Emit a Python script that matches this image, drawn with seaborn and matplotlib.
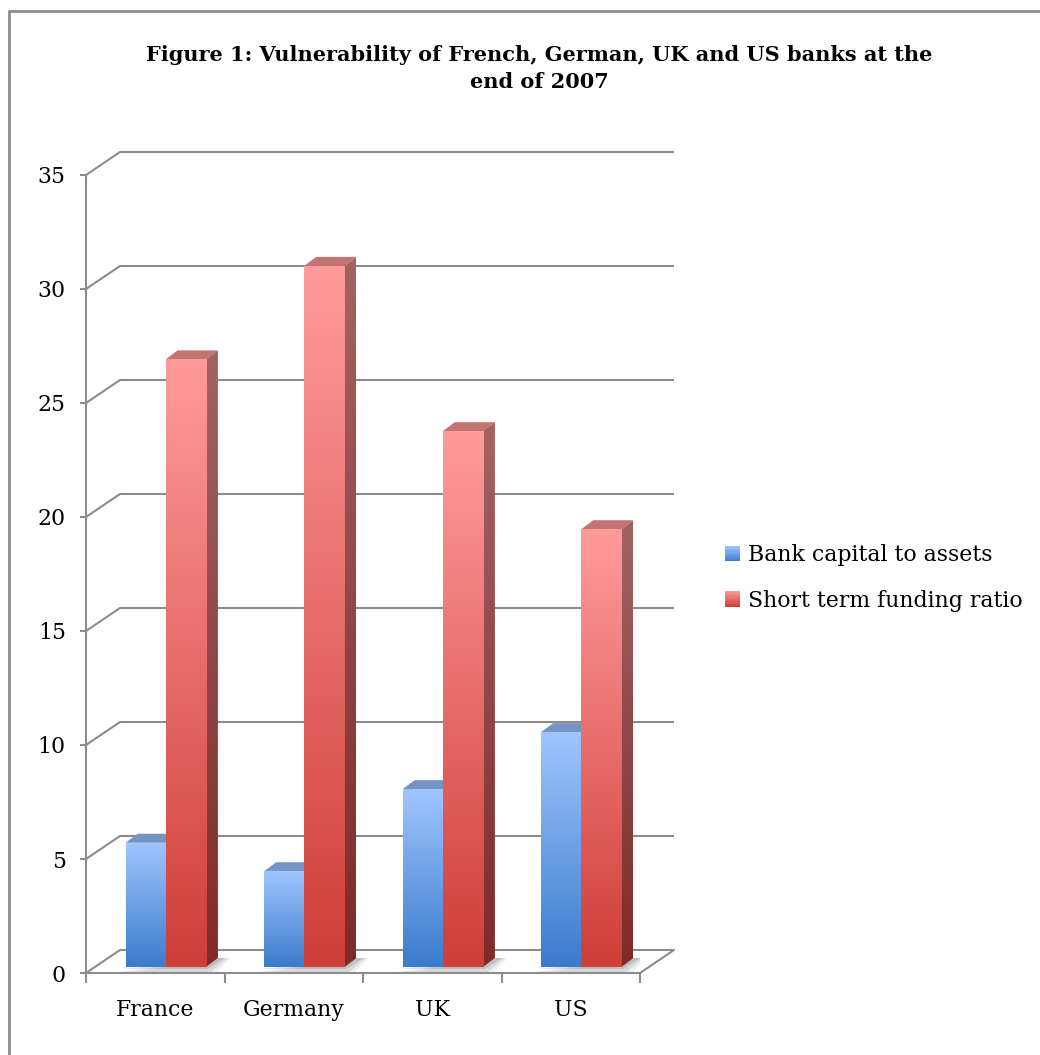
import numpy as np
import pandas as pd
import matplotlib
matplotlib.use("Agg")
import matplotlib.pyplot as plt
import seaborn as sns
from matplotlib.patches import Polygon, Rectangle
from matplotlib.lines import Line2D
from matplotlib.legend_handler import HandlerBase
from matplotlib.colors import LinearSegmentedColormap, to_rgb

# ---- data -------------------------------------------------------------
countries = ["France", "Germany", "UK", "US"]
capital_to_assets = [5.45, 4.2, 7.8, 10.3]
short_term_funding = [26.65, 30.75, 23.5, 19.2]
series_names = ["Bank capital to assets", "Short term funding ratio"]
y_ticks = [0, 5, 10, 15, 20, 25, 30, 35]
title = ("Figure 1: Vulnerability of French, German, UK and US banks at the\n"
         "end of 2007")

df = pd.DataFrame({
    "country": countries * 2,
    "value": capital_to_assets + short_term_funding,
    "series": [series_names[0]] * len(countries) + [series_names[1]] * len(countries),
})

# ---- style ------------------------------------------------------------
sns.set_theme(style="white")
plt.rcParams["font.family"] = ["DejaVu Serif"]
plt.rcParams["text.color"] = "black"

GRID = "#8c8c8c"
LW = 1.5
FS = 15.8
# (front face top, front face bottom, top face, side top, side bottom)
SHADES = {
    series_names[0]: ("#9fc5ff", "#3b7bcc", "#7494c4", "#5a7fb8", "#2f5c9a"),
    series_names[1]: ("#ff9b9b", "#cf3e39", "#c47272", "#a46363", "#7e2a28"),
}

W, H = 1040, 1055
fig = plt.figure(figsize=(W / 100, H / 100), dpi=100)
# front plane of the box, in pixels
X0, X1, Y0, YT = 86, 640, 973, 175
ax = fig.add_axes([X0 / W, 1 - Y0 / H, (X1 - X0) / W, (Y0 - YT) / H])
ax.set_facecolor("none")

sns.barplot(data=df, x="country", y="value", hue="series",
            palette={k: v[1] for k, v in SHADES.items()},
            width=0.58, saturation=1, legend=False, ax=ax)

XL, XR, YMAX = -0.5, len(countries) - 0.5, 35
ppx = (X1 - X0) / (XR - XL)
ppy = (Y0 - YT) / YMAX


def dx(px):
    return px / ppx


def dy(px):
    return px / ppy


# ---- walls and floor --------------------------------------------------
WX, WY = dx(34), dy(23)
for v in y_ticks:
    ax.plot([XL + WX, XR + WX], [v + WY, v + WY], color=GRID, lw=LW,
            clip_on=False, zorder=1, solid_capstyle="butt")
    ax.plot([XL, XL + WX], [v, v + WY], color=GRID, lw=LW,
            clip_on=False, zorder=1)
ax.plot([XR, XR + WX], [0, WY], color=GRID, lw=LW, clip_on=False, zorder=1)


# ---- bars with depth --------------------------------------------------
def gradient(clip, top, bottom, extent, z):
    cmap = LinearSegmentedColormap.from_list("g", [bottom, top])
    grad = np.linspace(0, 1, 256)[:, None]
    im = ax.imshow(grad, cmap=cmap, extent=extent, origin="lower",
                   aspect="auto", zorder=z, interpolation="bilinear")
    im.set_clip_path(clip)
    im.set_clip_on(True)


BX, BY = dx(10.5), dy(6)      # bar plane sits a little inside the box
DX, DY = dx(12), dy(9)        # bar depth

bars = []
for name, cont in zip(series_names, ax.containers):
    for p in cont.patches:
        bars.append((p, name))
bars.sort(key=lambda t: t[0].get_x())

# soft floor shadows under each pair of bars
for i in range(0, len(bars), 2):
    left = bars[i][0].get_x() + BX
    right = bars[i + 1][0].get_x() + BX + bars[i + 1][0].get_width()
    for k, a in enumerate([0.12, 0.09, 0.06]):
        grow = 2 + 3 * k
        ax.add_patch(Polygon([(left - dx(grow), BY - dy(grow)),
                              (right + dx(grow), BY - dy(grow)),
                              (right + DX + dx(grow + 5), BY + DY),
                              (right + DX, BY + DY)],
                             closed=True, facecolor="black", alpha=a,
                             edgecolor="none", zorder=1.5))

for i, (p, name) in enumerate(bars):
    front_top, front_bot, top_col, side_top, side_bot = SHADES[name]
    x, w, h = p.get_x() + BX, p.get_width(), p.get_height()
    p.set_x(x)
    p.set_y(BY)
    y0, y1 = BY, BY + h
    z = 3 + i * 0.1

    ax.add_patch(Polygon([(x, y1), (x + w, y1), (x + w + DX, y1 + DY),
                          (x + DX, y1 + DY)], closed=True,
                         facecolor=top_col, edgecolor="none", zorder=z))
    side = Polygon([(x + w, y0), (x + w + DX, y0 + DY),
                    (x + w + DX, y1 + DY), (x + w, y1)], closed=True,
                   transform=ax.transData)
    gradient(side, side_top, side_bot, [x + w, x + w + DX, y0, y1 + DY], z + 0.01)

    p.set_facecolor("none")
    p.set_edgecolor("none")
    p.set_zorder(z + 0.05)
    gradient(p, front_top, front_bot, [x, x + w, y0, y1], z + 0.04)

ax.set_xlim(XL, XR)
ax.set_ylim(0, YMAX)

# ---- axes -------------------------------------------------------------
for s in ["top", "right"]:
    ax.spines[s].set_visible(False)
for s in ["left", "bottom"]:
    ax.spines[s].set_color(GRID)
    ax.spines[s].set_linewidth(LW)
ax.set_yticks(y_ticks)
ax.set_yticklabels([str(v) for v in y_ticks])
ax.tick_params(axis="y", left=True, length=4.5, width=LW, color=GRID,
               pad=10, labelsize=FS, labelcolor="black")
ax.set_xticks(range(len(countries)))
ax.set_xticklabels(countries)
ax.set_xticks(np.arange(XL, XR + 0.01, 1), minor=True)
ax.tick_params(axis="x", which="major", bottom=False, pad=13,
               labelsize=FS, labelcolor="black")
ax.tick_params(axis="x", which="minor", bottom=True, length=7, width=LW,
               color=GRID)
ax.set_xlabel("")
ax.set_ylabel("")
ax.grid(False)

# ---- title ------------------------------------------------------------
fig.text(539 / W, 1 - 45 / H, title, ha="center", va="top",
         multialignment="center", fontsize=15, fontweight="bold",
         linespacing=1.45, color="black")


# ---- legend with shaded swatches --------------------------------------
class ShadedSwatch(HandlerBase):
    def __init__(self, top, bottom):
        super().__init__()
        self.top, self.bottom = np.array(to_rgb(top)), np.array(to_rgb(bottom))

    def create_artists(self, legend, orig_handle, xdescent, ydescent,
                       width, height, fontsize, trans):
        n = 12
        size = min(width, height)
        x0, y0 = -xdescent, -ydescent + (height - size) / 2
        out = []
        for k in range(n):
            t = (k + 0.5) / n
            c = self.bottom * (1 - t) + self.top * t
            out.append(Rectangle((x0, y0 + k * size / n), size, size / n + 0.3,
                                 facecolor=c, edgecolor="none", transform=trans))
        return out


handles = [Rectangle((0, 0), 1, 1) for _ in series_names]
hmap = {h: ShadedSwatch(SHADES[n][0], SHADES[n][1]) for h, n in zip(handles, series_names)}
fig.legend(handles, series_names, handler_map=hmap, loc="center left",
           bbox_to_anchor=(714 / W, 1 - 578 / H), frameon=False, fontsize=FS,
           handlelength=0.7, handleheight=0.7, handletextpad=0.35,
           labelspacing=1.05, borderpad=0, labelcolor="black")

# ---- outer frame ------------------------------------------------------
fig.add_artist(Line2D([9 / W, 9 / W], [0, 1 - 11 / H], color=GRID, lw=2))
fig.add_artist(Line2D([9 / W, 1], [1 - 11 / H, 1 - 11 / H], color=GRID, lw=2))

fig.savefig("out.png", dpi=100)
